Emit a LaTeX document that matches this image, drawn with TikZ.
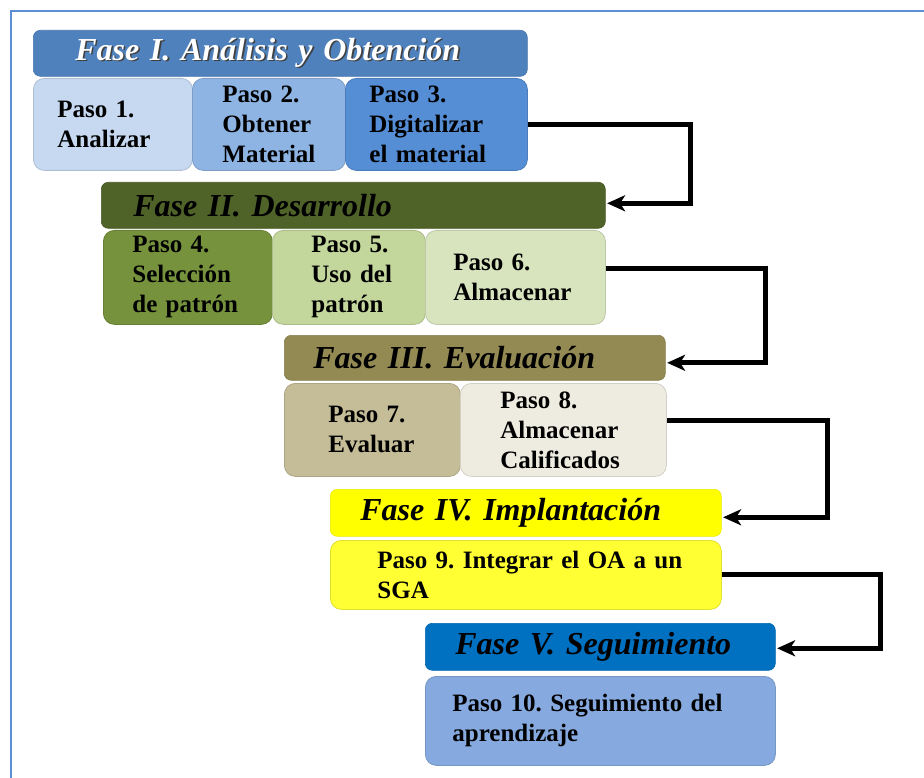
\documentclass[tikz,border=0pt]{standalone}
\usepackage{fontspec}
\setmainfont{Liberation Serif}
\usetikzlibrary{arrows.meta}

% phase headers
\definecolor{faseI}{HTML}{4F81BD}
\definecolor{faseII}{HTML}{4F6228}
\definecolor{faseIII}{HTML}{938953}
\definecolor{faseIV}{HTML}{FFFF00}
\definecolor{faseV}{HTML}{0070C0}
% step boxes
\definecolor{pasoA}{HTML}{C6D9F1}
\definecolor{pasoB}{HTML}{8EB4E3}
\definecolor{pasoC}{HTML}{558ED5}
\definecolor{pasoD}{HTML}{76923C}
\definecolor{pasoE}{HTML}{C3D69B}
\definecolor{pasoF}{HTML}{D7E4BD}
\definecolor{pasoG}{HTML}{C4BD97}
\definecolor{pasoH}{HTML}{EEECE1}
\definecolor{pasoI}{HTML}{FFFF33}
\definecolor{pasoJ}{HTML}{86AADF}
\definecolor{marco}{HTML}{5B8FD3}

\newcommand{\pasofont}{\fontsize{25}{30}\selectfont\bfseries\hyphenpenalty=10000\relax}
\newcommand{\fasefont}{\fontsize{32}{36}\selectfont\bfseries\itshape\hyphenpenalty=10000\relax}
% text with a soft drop shadow behind it
\newcommand{\sombra}[2]{\leavevmode\rlap{\hspace{1.6pt}\raisebox{-1.6pt}{\textcolor{#1}{#2}}}#2}

\begin{document}
\begin{tikzpicture}[x=1pt,y=-1pt,
  stepbox/.style={anchor=north west, rounded corners=11pt, inner xsep=0pt,
    inner ysep=0pt, align=left, font=\pasofont, line width=0.8pt,
    fill=#1, draw=#1!88!black},
  phasebox/.style={anchor=north west, rounded corners=7pt, inner xsep=0pt,
    inner ysep=0pt, align=left, font=\fasefont, fill=#1, draw=#1!92!black,
    line width=0.6pt},
  conn/.style={line width=5pt, -{Stealth[length=18pt,width=16pt,inset=5pt]},
    shorten >=1.5pt},
  frameline/.style={draw=marco, line width=2.2pt}]

\useasboundingbox (0,0) rectangle (924,778);
\fill[white] (0,0) rectangle (924,778);
\draw[frameline] (11,778) -- (11,11) -- (924,11);

% Fase I
\node[phasebox=faseI, text=white, minimum width=494pt, minimum height=46pt,
  text width=410pt] (f1) at (33,30) {\sombra{black!75}{Fase I. Análisis y Obtención}};
\node[stepbox=pasoA, minimum width=159pt, minimum height=92pt, text width=111pt]
  (p1) at (33,78) {Paso~1.\\Analizar};
\node[stepbox=pasoB, minimum width=153pt, minimum height=92pt, text width=93pt]
  (p2) at (192,78) {Paso~2.\\Obtener\\Material};
\node[stepbox=pasoC, minimum width=182pt, minimum height=92pt, text width=134pt]
  (p3) at (345,78) {Paso~3.\\Digitalizar\\el~material};

% Fase II
\node[phasebox=faseII, minimum width=504pt, minimum height=46pt,
  text width=440pt] (f2) at (101,182) {Fase II. Desarrollo};
\node[stepbox=pasoD, minimum width=169pt, minimum height=94pt, text width=111pt]
  (p4) at (103,230) {Paso~4.\\Selección\\de~patrón};
\node[stepbox=pasoE, minimum width=153pt, minimum height=94pt, text width=75pt]
  (p5) at (272,230) {Paso~5.\\Uso~del\\patrón};
\node[stepbox=pasoF, minimum width=180pt, minimum height=94pt, text width=124pt]
  (p6) at (425,230) {Paso~6.\\Almacenar};

% Fase III
\node[phasebox=faseIII, minimum width=381pt, minimum height=45pt,
  text width=323pt] (f3) at (284,335) {Fase III. Evaluación};
\node[stepbox=pasoG, minimum width=176pt, minimum height=93pt, text width=88pt]
  (p7) at (284,383) {Paso~7.\\Evaluar};
\node[stepbox=pasoH, minimum width=206pt, minimum height=93pt, text width=126pt]
  (p8) at (460,383) {Paso~8.\\Almacenar\\Calificados};

% Fase IV
\node[phasebox=faseIV, minimum width=391pt, minimum height=47pt,
  text width=331pt] (f4) at (330,489) {Fase IV. Implantación};
\node[stepbox=pasoI, minimum width=391pt, minimum height=69pt, text width=297pt]
  (p9) at (330,540) {Paso~9.~Integrar~el~OA~a~un\\SGA};

% Fase V
\node[phasebox=faseV, minimum width=350pt, minimum height=47pt,
  text width=290pt] (f5) at (425,623) {Fase V. Seguimiento};
\node[stepbox=pasoJ, minimum width=350pt, minimum height=89pt, text width=296pt]
  (p10) at (425,676) {Paso~10.~Seguimiento~del\\aprendizaje};

% links from the last step of each phase to the next phase
\draw[conn] (p3.east) -- ++(163,0) |- ([yshift=2pt]f2.east);
\draw[conn] ([yshift=9pt]p6.east) -- ++(160,0) |- ([yshift=-5pt]f3.east);
\draw[conn] ([yshift=9pt]p8.east) -- ++(161,0) |- ([yshift=-4.5pt]f4.east);
\draw[conn] (p9.east) -- ++(159,0) |- ([yshift=-1.5pt]f5.east);
\end{tikzpicture}
\end{document}
